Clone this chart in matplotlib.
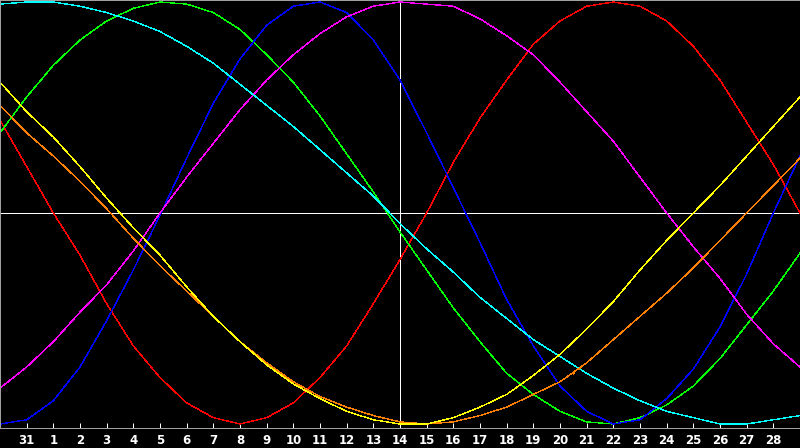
import numpy as np
import matplotlib
matplotlib.use("Agg")
import matplotlib.pyplot as plt

# --- Data (percent at each day) ---
days = [30, 31, 1, 2, 3, 4, 5, 6, 7, 8, 9, 10, 11, 12, 13, 14,
        15, 16, 17, 18, 19, 20, 21, 22, 23, 24, 25, 26, 27, 28, 29]
today = 14

red = [44, 22, 0, -20, -43, -63, -78, -90, -97, -100, -97, -90, -78, -63, -43, -22,
       0, 24, 45, 63, 80, 91, 98, 100, 98, 91, 79, 63, 43, 23, 0]
green = [38, 55, 70, 82, 91, 97, 100, 99, 95, 87, 75, 62, 46, 28, 10, -9,
         -27, -45, -61, -76, -86, -94, -99, -100, -97, -91, -82, -69, -53, -37, -19]
blue = [-100, -98, -89, -73, -51, -27, -1, 26, 52, 73, 89, 98, 100, 95, 82, 63,
        38, 12, -14, -41, -63, -82, -94, -100, -98, -88, -74, -54, -29, 0, 27]
magenta = [-83, -73, -61, -47, -34, -18, 0, 17, 33, 49, 63, 75, 85, 93, 98, 100,
           99, 98, 92, 84, 75, 62, 48, 34, 17, 0, -16, -31, -48, -62, -73]
cyan = [99, 100, 100, 98, 95, 91, 86, 79, 71, 61, 51, 41, 30, 19, 8, -5,
        -17, -28, -40, -50, -60, -68, -76, -83, -89, -94, -97, -100, -100, -98, -96]
yellow = [62, 48, 36, 22, 7, -7, -20, -35, -49, -61, -72, -81, -88, -94, -98, -100,
          -100, -97, -92, -86, -77, -67, -55, -42, -27, -13, 0, 13, 27, 41, 55]
orange = [51, 38, 27, 15, 2, -12, -25, -37, -49, -61, -71, -80, -87, -92, -96, -99,
          -100, -99, -96, -92, -86, -80, -71, -60, -49, -38, -26, -13, 0, 13, 26]

series = [
    (red, "#ff0000"),
    (green, "#00ff00"),
    (blue, "#0000ff"),
    (magenta, "#ff00ff"),
    (cyan, "#00ffff"),
    (orange, "#ff8000"),
    (yellow, "#ffff00"),
]

# --- Figure ---
W, H = 800, 448
fig = plt.figure(figsize=(W / 100, H / 100), dpi=100, facecolor="black")
ax = fig.add_axes([0, 20 / H, 1, 428 / H], facecolor="black")

x = np.arange(len(days))
px = 0.72  # one pixel in points

# crosshair: zero line and today
ax.axhline(0, color="white", lw=0.5, antialiased=False, zorder=1)
ax.axvline(days.index(today), color="white", lw=0.5, antialiased=False, zorder=1)

for values, color in series:
    ax.plot(x, values, color=color, lw=0.25, antialiased=False, zorder=2)

ax.set_xlim(0, len(days) - 1)
ax.set_ylim(-101.9, 100.95)

ax.set_xticks(x[1:-1])
ax.set_xticklabels([str(d) for d in days[1:-1]], color="white",
                   fontsize=8.5, fontweight="bold", family="DejaVu Sans")
ax.tick_params(axis="x", direction="in", length=5 * px, width=px,
               color="white", pad=4.5)
ax.set_yticks([])

for side in ["left", "top", "right", "bottom"]:
    ax.spines[side].set_color("#a0a0a0")
    ax.spines[side].set_linewidth(px)

fig.savefig("out.png", dpi=100, facecolor="black")
